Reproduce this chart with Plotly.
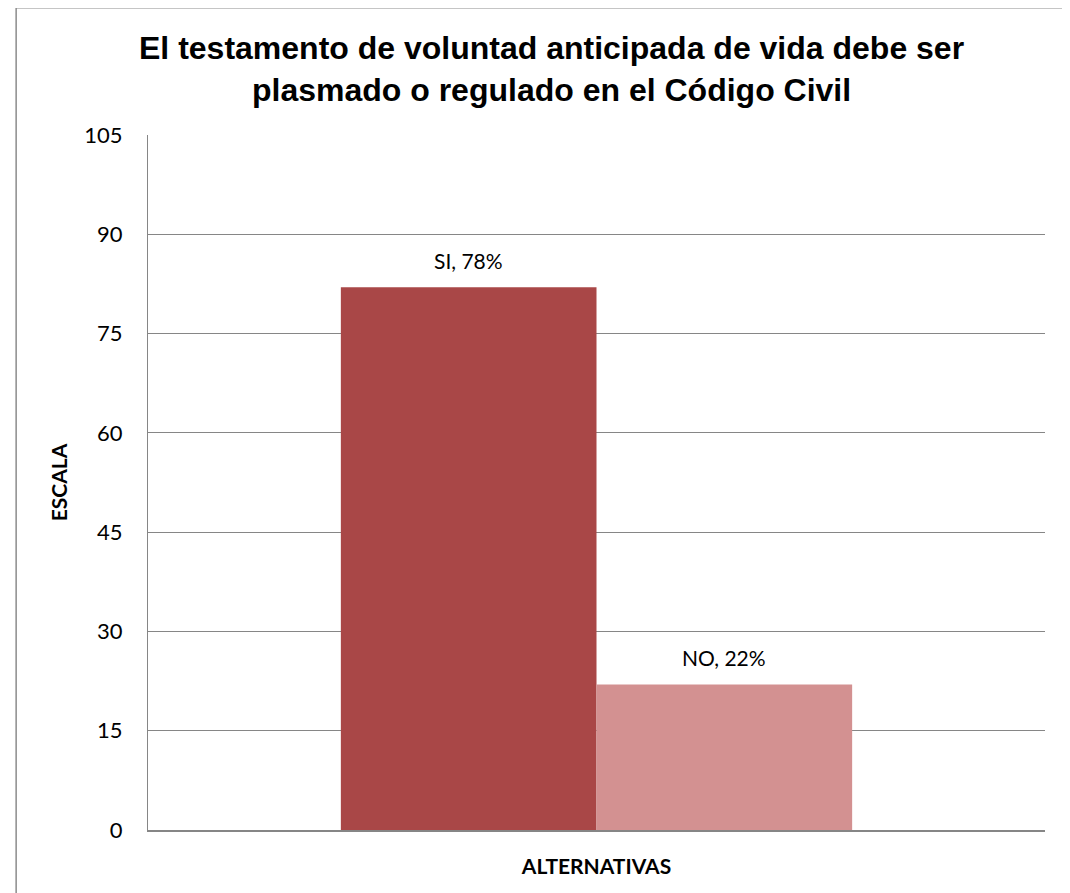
import plotly.graph_objects as go

categoria = ["ALTERNATIVAS"]
series = ["SI", "NO"]
valores = [82, 22]
porcentajes = ["78%", "22%"]
colores = ["#A94747", "#D39191"]
y_ticks = [0, 15, 30, 45, 60, 75, 90, 105]

ML, MR, MT, MB = 140, 33, 127, 71
W, H = 1070, 893
BARGAP = 0.43
plot_w = W - ML - MR
bar_w = plot_w * (1 - BARGAP) / len(series)

fig = go.Figure()
for i, (name, val, pct, col) in enumerate(zip(series, valores, porcentajes, colores)):
    fig.add_trace(go.Bar(
        x=categoria, y=[val], name=name,
        marker=dict(color=col, line=dict(width=0)),
    ))
    fig.add_annotation(
        x=categoria[0], y=val, xref="x", yref="y",
        text=f"{name}, {pct}", showarrow=False,
        xshift=(i - (len(series) - 1) / 2) * bar_w, yshift=12,
        yanchor="bottom",
        font=dict(family="Lato, Open Sans, sans-serif", size=21, color="#000000"),
    )

fig.update_layout(
    width=W, height=H,
    margin=dict(l=ML, r=MR, t=MT, b=MB),
    paper_bgcolor="white", plot_bgcolor="white",
    barmode="group", bargap=BARGAP, bargroupgap=0,
    showlegend=False,
    title=dict(
        text="<b>El testamento de voluntad anticipada de vida debe ser<br>plasmado o regulado en el Código Civil</b>",
        x=0.508, xanchor="center", y=0.943, yanchor="middle",
        font=dict(family="Liberation Sans, Arial, sans-serif", size=32, color="#000000"),
    ),
    xaxis=dict(
        showticklabels=False, ticks="",
        showline=True, linecolor="#868686", linewidth=2,
        title=dict(text="<b>ALTERNATIVAS</b>", standoff=28,
                   font=dict(family="Lato, Open Sans, sans-serif", size=21, color="#000000")),
    ),
    yaxis=dict(
        range=[0, 105], tickvals=y_ticks,
        showgrid=True, gridcolor="#868686", gridwidth=1,
        showline=True, linecolor="#868686", linewidth=1,
        ticks="outside", ticklen=20, tickcolor="rgba(0,0,0,0)",
        tickfont=dict(family="Lato, Open Sans, sans-serif", size=22, color="#000000"),
        title=dict(text="<b>ESCALA</b>", standoff=10,
                   font=dict(family="Lato, Open Sans, sans-serif", size=21, color="#000000")),
        zeroline=False,
    ),
)

fig.add_shape(type="rect", xref="paper", yref="paper",
              x0=-0.147, x1=1.0201, y0=-0.11, y1=1.183,
              line=dict(color="#8C8C8C", width=1.5), fillcolor="rgba(0,0,0,0)", layer="below")

fig.write_html("out.html")
